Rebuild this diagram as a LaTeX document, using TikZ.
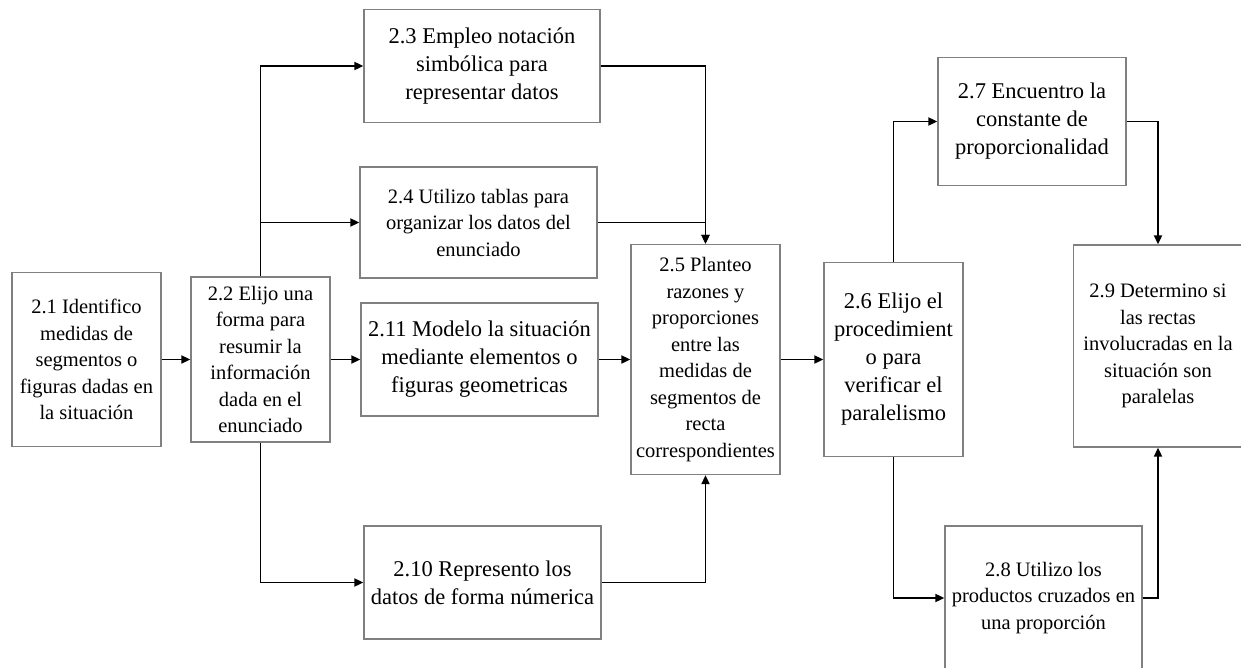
\documentclass[tikz,border=0pt]{standalone}
\usepackage{fontspec}
\setmainfont{Liberation Serif}
\usetikzlibrary{arrows.meta}
\begin{document}
\begin{tikzpicture}[x=1pt,y=-1pt,
  box/.style={draw=black!50,line width=1.3pt,rectangle,inner sep=0pt,align=center,fill=white},
  big/.style={font=\fontsize{22.5}{28}\selectfont},
  small/.style={font=\fontsize{20.5}{26.5}\selectfont},
  flow/.style={line width=1.8pt,-{Triangle[length=9pt,width=8pt]}}]
\useasboundingbox (0,0) rectangle (1241,668);
\fill[white] (0,0) rectangle (1241,668);

% boxes
\node[box,small,minimum width=149pt,minimum height=174pt] (n21) at (86.5,359.5)
  {2.1 Identifico\\medidas de\\segmentos o\\figuras dadas en\\la situación};
\node[box,small,minimum width=139pt,minimum height=165pt] (n22) at (260.5,359.5)
  {2.2 Elijo una\\forma para\\resumir la\\información\\dada en el\\enunciado};
\node[box,big,minimum width=236pt,minimum height=113pt] (n23) at (482,66)
  {2.3 Empleo notación\\simbólica para\\representar datos};
\node[box,small,minimum width=237pt,minimum height=111pt] (n24) at (478.5,222.5)
  {2.4 Utilizo tablas para\\organizar los datos del\\enunciado};
\node[box,big,minimum width=237pt,minimum height=113pt] (n211) at (479.5,359.5)
  {2.11 Modelo la situación\\mediante elementos o\\figuras geometricas};
\node[box,big,minimum width=237pt,minimum height=113pt] (n210) at (482.5,582.5)
  {2.10 Represento los\\datos de forma númerica};
\node[box,small,minimum width=149pt,minimum height=230pt] (n25) at (705.5,359.5)
  {2.5 Planteo\\razones y\\proporciones\\entre las\\medidas de\\segmentos de\\recta\\correspondientes};
\node[box,big,minimum width=139pt,minimum height=194pt] (n26) at (893.5,359.5)
  {2.6 Elijo el\\procedimient\\o para\\verificar el\\paralelismo};
\node[box,big,minimum width=188pt,minimum height=128pt] (n27) at (1032,121.5)
  {2.7 Encuentro la\\constante de\\proporcionalidad};
\node[box,small,minimum width=169pt,minimum height=202pt] (n29) at (1158,346)
  {2.9 Determino si\\las rectas\\involucradas en la\\situación son\\paralelas};
\node[box,small,minimum width=197pt,minimum height=144pt] (n28) at (1043.5,598)
  {2.8 Utilizo los\\productos cruzados en\\una proporción};

% connectors
\draw[flow] (n21.east) -- (n22.west);
\draw[flow] (n22.north) |- (n23.west);
\draw[flow] (n22.north) |- (n24.west);
\draw[flow] (n22.east) -- (n211.west);
\draw[flow] (n22.south) |- (n210.west);
\draw[flow] (n23.east) -| (n25.north);
\draw[flow] (n24.east) -| (n25.north);
\draw[flow] (n211.east) -- (n25.west);
\draw[flow] (n210.east) -| (n25.south);
\draw[flow] (n25.east) -- (n26.west);
\draw[flow] (n26.north) |- (n27.west);
\draw[flow] (n26.south) |- (n28.west);
\draw[flow] (n27.east) -| (n29.north);
\draw[flow] (n28.east) -| (n29.south);
\end{tikzpicture}
\end{document}
